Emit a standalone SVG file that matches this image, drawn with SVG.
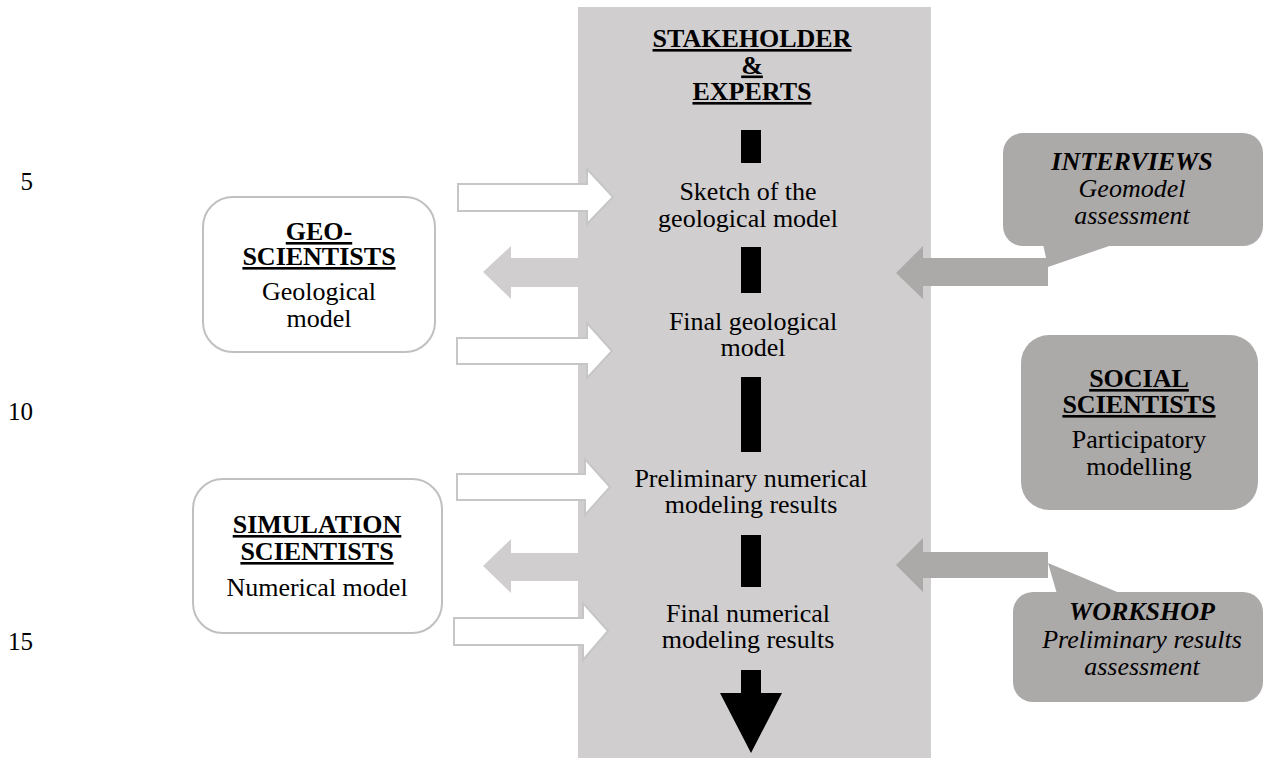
<svg xmlns="http://www.w3.org/2000/svg" width="1266" height="758" viewBox="0 0 1266 758">
<style>
text{font-family:"Liberation Serif","Times New Roman",serif;font-size:26px;fill:#000;text-anchor:middle}
.b{font-weight:bold;text-decoration:underline}
.bi{font-weight:bold;font-style:italic}
.i{font-style:italic}
.num{text-anchor:end;font-size:25px}
.wa{fill:#fff;stroke:#c6c6c6;stroke-width:2}
.la{fill:#d0cecf}
.da{fill:#aca9a9}
.bar{fill:#000}
</style>
<rect width="1266" height="758" fill="#fff"/>
<g id="line-numbers">
<text class="num" x="33" y="190">5</text>
<text class="num" x="33" y="420">10</text>
<text class="num" x="33" y="650">15</text>
</g>
<g id="stakeholders">
<rect x="578" y="7" width="353" height="751" fill="#d0cecf"/>
<text class="b" x="752" y="47">STAKEHOLDER</text>
<text class="b" x="752" y="73.5">&amp;</text>
<text class="b" x="752" y="100">EXPERTS</text>
</g>
<g id="connectors">
<rect class="bar" x="741" y="130" width="20" height="33"/>
<rect class="bar" x="741" y="247" width="20" height="46"/>
<rect class="bar" x="741" y="377" width="20" height="75"/>
<rect class="bar" x="741" y="535" width="20" height="52"/>
<polygon class="bar" points="741,670 761,670 761,693 782,693 751,753 720,693 741,693"/>
<polygon class="wa" points="458,184 587,184 587,169 613,197 587,224 587,211 458,211"/>
<polygon class="wa" points="457,338 587,338 587,323 612,351 587,378 587,364 457,364"/>
<polygon class="wa" points="457,474 585,474 585,459 610,487 585,515 585,500 457,500"/>
<polygon class="wa" points="454,618 583,618 583,603 608,631 583,660 583,645 454,645"/>
<polygon class="la" points="483,272 511,246 511,258 580,258 580,287 511,287 511,299"/>
<polygon class="la" points="483,566 511,539 511,553 580,553 580,581 511,581 511,593"/>
<polygon class="da" points="896,273 923,246 923,258 1048,258 1048,286 923,286 923,299"/>
<polygon class="da" points="896,565 923,538 923,552 1048,552 1048,578 923,578 923,592"/>
</g>
<g id="sketch-geomodel"><text x="748" y="200">Sketch of the</text><text x="748" y="227">geological model</text></g>
<g id="final-geomodel"><text x="753" y="330">Final geological</text><text x="753" y="356">model</text></g>
<g id="prelim-results"><text x="751" y="487">Preliminary numerical</text><text x="751" y="513">modeling results</text></g>
<g id="final-results"><text x="748" y="622">Final numerical</text><text x="748" y="648">modeling results</text></g>
<g id="geo-scientists">
<rect x="203" y="197" width="232" height="155" rx="30" fill="#fff" stroke="#c0c0c0" stroke-width="2"/>
<text class="b" x="319" y="240">GEO-</text>
<text class="b" x="319" y="265">SCIENTISTS</text>
<text x="319" y="300">Geological</text>
<text x="319" y="327">model</text>
</g>
<g id="simulation-scientists">
<rect x="193" y="479" width="249" height="154" rx="30" fill="#fff" stroke="#c0c0c0" stroke-width="2"/>
<text class="b" x="317" y="533">SIMULATION</text>
<text class="b" x="317" y="560">SCIENTISTS</text>
<text x="317" y="596">Numerical model</text>
</g>
<g id="social-scientists">
<rect x="1021" y="335" width="237" height="175" rx="28" fill="#aca9a9"/>
<text class="b" x="1139" y="387">SOCIAL</text>
<text class="b" x="1139" y="413">SCIENTISTS</text>
<text x="1139" y="448">Participatory</text>
<text x="1139" y="475">modelling</text>
</g>
<g id="interviews">
<rect x="1003" y="133" width="260" height="113" rx="20" fill="#aca9a9"/>
<polygon class="da" points="1043,244 1048,267 1115,244"/>
<text class="bi" x="1132" y="170">INTERVIEWS</text>
<text class="i" x="1132" y="197">Geomodel</text>
<text class="i" x="1132" y="224">assessment</text>
</g>
<g id="workshop">
<rect x="1013" y="592" width="250" height="110" rx="20" fill="#aca9a9"/>
<polygon class="da" points="1048,563 1122,594 1057,594"/>
<text class="bi" x="1142" y="620">WORKSHOP</text>
<text class="i" x="1142" y="648">Preliminary results</text>
<text class="i" x="1142" y="675">assessment</text>
</g>
</svg>
